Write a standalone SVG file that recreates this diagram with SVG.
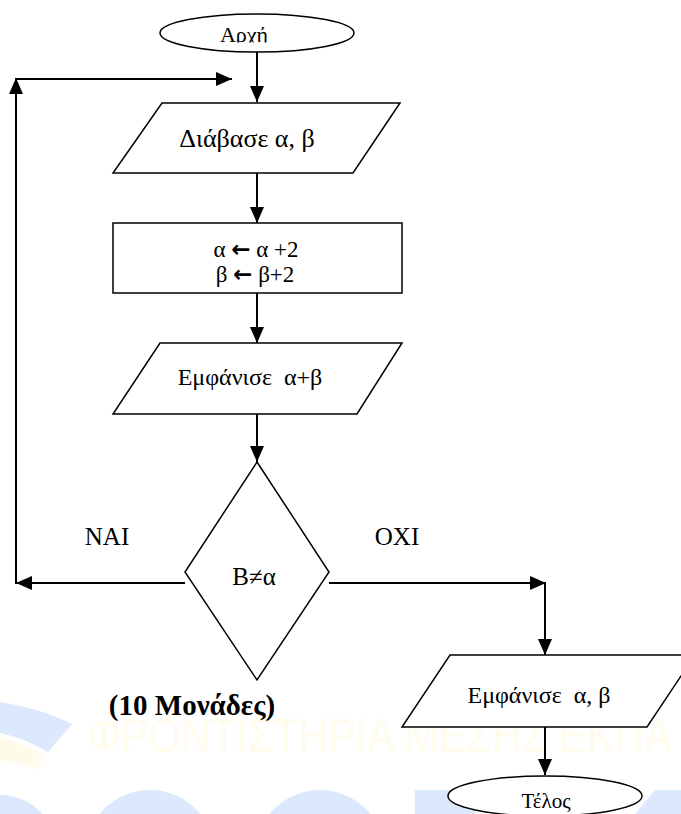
<svg xmlns="http://www.w3.org/2000/svg" width="681" height="814" viewBox="0 0 681 814">
<defs>
<style>
.shape{fill:#fff;stroke:#000;stroke-width:1.5}
.conn{fill:none;stroke:#000;stroke-width:2}
.t{fill:#000;text-anchor:middle}
.bg{fill:#dce8fb}
.arr{font-family:"DejaVu Sans",sans-serif;font-weight:bold}
</style>
<marker id="ah" viewBox="0 0 16 14" refX="16" refY="7" markerWidth="16" markerHeight="14" markerUnits="userSpaceOnUse" orient="auto">
<path d="M0,0 L16,7 L0,14 Z" fill="#000"/>
</marker>
<clipPath id="clipStart"><rect x="150" y="0" width="220" height="42.5"/></clipPath>
</defs>
<rect width="681" height="814" fill="#fff"/>
<g id="watermark">
<path class="bg" d="M0,702 Q40,708 72,724 L48,752 Q25,738 0,733 Z"/>
<path d="M0,738 Q22,742 45,756 L36,770 Q18,762 0,760 Z" fill="#fffbea"/>
<circle class="bg" cx="0" cy="852" r="57"/>
<circle class="bg" cx="150" cy="855" r="65"/>
<circle class="bg" cx="320" cy="855" r="65"/>
<rect class="bg" x="415" y="790" width="60" height="24"/>
<polygon class="bg" points="655,790 681,790 681,814 635,814"/>
<text x="88" y="752" font-family="Liberation Sans, Arial, sans-serif" font-size="48" fill="#fffcee" textLength="584" lengthAdjust="spacingAndGlyphs">ΦΡΟΝΤΙΣΤΗΡΙΑ ΜΕΣΗΣ ΕΚΠΑ</text>
</g>
<g id="connectors">
<line class="conn" x1="257" y1="52" x2="257" y2="102" marker-end="url(#ah)"/>
<line class="conn" x1="16" y1="584" x2="16" y2="78" marker-end="url(#ah)"/>
<line class="conn" x1="16" y1="79" x2="232" y2="79" marker-end="url(#ah)"/>
<line class="conn" x1="257" y1="173" x2="257" y2="223" marker-end="url(#ah)"/>
<line class="conn" x1="257" y1="293" x2="257" y2="343" marker-end="url(#ah)"/>
<line class="conn" x1="257" y1="414" x2="257" y2="462" marker-end="url(#ah)"/>
<line class="conn" x1="185" y1="583" x2="16" y2="583" marker-end="url(#ah)"/>
<line class="conn" x1="329" y1="583" x2="546" y2="583" marker-end="url(#ah)"/>
<line class="conn" x1="545" y1="582" x2="545" y2="655" marker-end="url(#ah)"/>
<line class="conn" x1="545" y1="727" x2="545" y2="775" marker-end="url(#ah)"/>
</g>
<g font-family="Liberation Serif, Times New Roman, serif">
<g id="start">
<ellipse class="shape" cx="257" cy="33" rx="97" ry="19"/>
<text class="t" x="244" y="42" font-size="22" clip-path="url(#clipStart)">Αρχή</text>
</g>
<g id="read">
<polygon class="shape" points="162,103 400,103 353,173 113,173"/>
<text class="t" x="247" y="147" font-size="26">Διάβασε α, β</text>
</g>
<g id="assign">
<rect class="shape" x="113" y="223" width="289" height="70"/>
<text class="t" x="256" y="257" font-size="23">α <tspan class="arr">←</tspan> α +2</text>
<text class="t" x="255" y="282" font-size="23">β <tspan class="arr">←</tspan> β+2</text>
</g>
<g id="show1">
<polygon class="shape" points="160,343 402,343 357,414 113,414"/>
<text class="t" x="250" y="385" font-size="24" xml:space="preserve">Εμφάνισε  α+β</text>
</g>
<g id="decision">
<polygon class="shape" points="257,462 329,572 257,680 185,572"/>
<text class="t" x="254" y="585" font-size="25">B≠α</text>
</g>
<g id="labels">
<text class="t" x="107" y="545" font-size="25">NAI</text>
<text class="t" x="397" y="545" font-size="25">OXI</text>
<text class="t" x="192" y="715" font-size="29" font-weight="bold">(10 Μονάδες)</text>
</g>
<g id="show2">
<polygon class="shape" points="450,655 695,655 647,727 402,727"/>
<text class="t" x="539" y="703" font-size="24" xml:space="preserve">Εμφάνισε  α, β</text>
</g>
<g id="end">
<ellipse class="shape" cx="545" cy="796" rx="97" ry="20"/>
<text class="t" x="546" y="808" font-size="21">Τέλος</text>
</g>
</g>
</svg>
